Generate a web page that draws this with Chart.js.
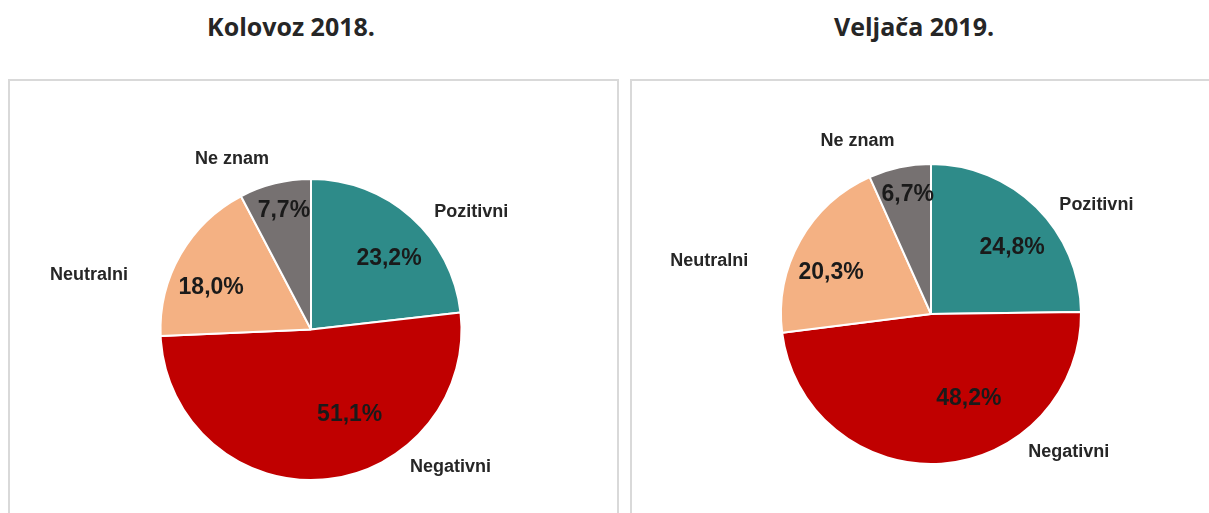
<!DOCTYPE html>
<html>
<head>
<meta charset="utf-8">
<script src="https://cdn.jsdelivr.net/npm/chart.js@4/dist/chart.umd.min.js"></script>
<style>
    body { margin: 0; background: #fff; width: 1209px; height: 513px; overflow: hidden; position: relative; }
    .title { position: absolute; top: 14px; font-family: 'Open Sans', sans-serif; font-weight: bold; font-size: 25px; line-height: 25px; color: #262626; text-align: center; }
    .panel { position: absolute; top: 79px; height: 460px; box-sizing: border-box; border: 2px solid #d9d9d9; border-bottom: none; }
    canvas { position: absolute; }
</style>
</head>
<body>
<div class="title" id="title1" style="left:0; width:582px;"></div>
<div class="title" id="title2" style="left:620px; width:588px;"></div>
<div class="panel" style="left:8px; width:611px;"></div>
<div class="panel" style="left:630px; width:600px;"></div>
<canvas id="pie1" style="left:10px; top:82px;" width="605" height="431"></canvas>
<canvas id="pie2" style="left:633px; top:82px;" width="576" height="431"></canvas>
<script>
const categories = ['Pozitivni', 'Negativni', 'Neutralni', 'Ne znam'];
const values2018 = [23.2, 51.1, 18.0, 7.7];
const values2019 = [24.8, 48.2, 20.3, 6.7];
const titles = ['Kolovoz 2018.', 'Veljača 2019.'];

const colors = ['#2E8B89', '#C00000', '#F4B183', '#767171'];

// label placement relative to each slice: [angle shift in degrees, radius factor]
const innerPlace = [[6, 0.70], [-20, 0.62], [-7, 0.72], [1, 0.81]];
const outerPlace = [[12, 1.32], [-41, 1.30], [-16, 1.52], [-11, 1.25]];

const sliceLabels = {
    id: 'sliceLabels',
    afterDatasetsDraw(chart) {
        const ctx = chart.ctx;
        const meta = chart.getDatasetMeta(0);
        const values = chart.data.datasets[0].data;
        ctx.save();
        ctx.textAlign = 'center';
        ctx.textBaseline = 'middle';
        meta.data.forEach(function (arc, i) {
            const p = arc.getProps(['x', 'y', 'startAngle', 'endAngle', 'outerRadius'], true);
            const mid = (p.startAngle + p.endAngle) / 2;

            let a = mid + innerPlace[i][0] * Math.PI / 180;
            let r = p.outerRadius * innerPlace[i][1];
            ctx.font = 'bold 23px "Liberation Sans", Arial, sans-serif';
            ctx.fillStyle = '#1a1a1a';
            ctx.fillText(values[i].toFixed(1).replace('.', ',') + '%', p.x + Math.cos(a) * r, p.y + Math.sin(a) * r);

            a = mid + outerPlace[i][0] * Math.PI / 180;
            r = p.outerRadius * outerPlace[i][1];
            ctx.font = 'bold 18px "Liberation Sans", Arial, sans-serif';
            ctx.fillStyle = '#262626';
            ctx.fillText(chart.data.labels[i], p.x + Math.cos(a) * r, p.y + Math.sin(a) * r);
        });
        ctx.restore();
    }
};

function makePie(id, values, padding) {
    new Chart(document.getElementById(id).getContext('2d'),
    {
        type: 'pie',
        data:
        {
            labels: categories,
            datasets: [{
                data: values,
                backgroundColor: colors,
                borderColor: '#ffffff',
                borderWidth: 2
            }]
        },
        options:
        {
            responsive: false,
            animation: false,
            layout: { padding: padding },
            plugins: {
                legend: { display: false },
                tooltip: { enabled: false }
            }
        },
        plugins: [sliceLabels]
    });
}

document.getElementById('title1').textContent = titles[0];
document.getElementById('title2').textContent = titles[1];

makePie('pie1', values2018, { left: 149, right: 152, top: 96, bottom: 32 });
makePie('pie2', values2019, { left: 147, right: 127, top: 81, bottom: 48 });
</script>
</body>
</html>
